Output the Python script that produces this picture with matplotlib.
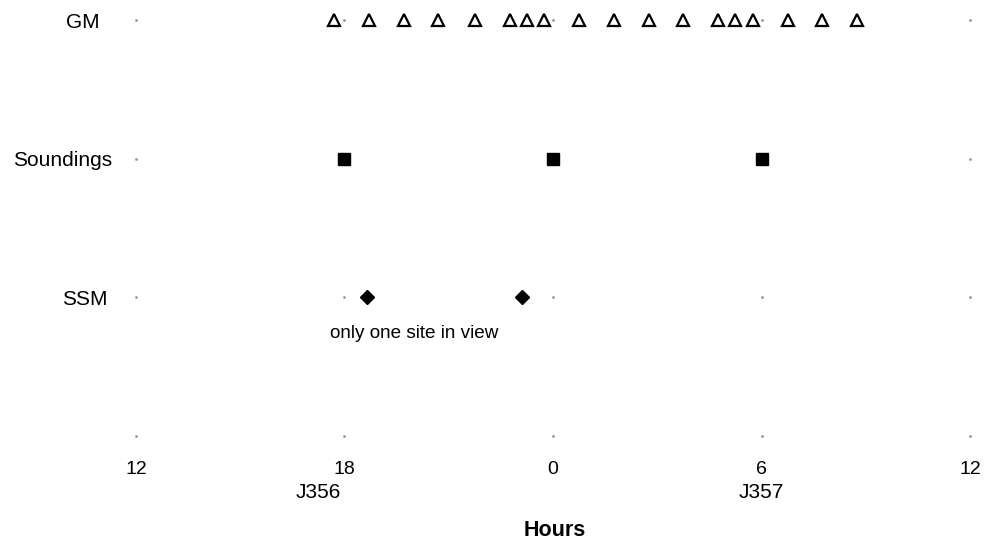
import matplotlib
matplotlib.use("Agg")
import matplotlib.pyplot as plt
import matplotlib.transforms as mtransforms

plt.rcParams["font.family"] = ["Liberation Sans", "DejaVu Sans"]

# hours counted from 12 UT on J356 (so 24 = 00 UT J357)
gm_times = [17.7, 18.7, 19.7, 20.7, 21.75, 22.75, 23.25, 23.75, 24.75, 25.75,
            26.75, 27.75, 28.75, 29.25, 29.75, 30.75, 31.75, 32.75]
sounding_times = [18.0, 24.0, 30.0]
ssm_times = [18.65, 23.1]

rows = ["SSM", "Soundings", "GM"]
row_y = [1, 2, 3]
row_right_px = [108, 112, 100]   # where each row name ends in the original

tick_pos = [12, 18, 24, 30, 36]
tick_labels = ["12", "18", "0", "6", "12"]
day_labels = ["J356", "J357"]
day_pos = [17.25, 30.0]

fig = plt.figure(figsize=(9.88, 5.42), dpi=100)
ax = fig.add_axes([136 / 988, 1 - 436 / 542, (970 - 136) / 988, (436 - 20) / 542])

# faint dotted grid marks at the main hours on every row
for yy in [0] + row_y:
    ax.plot(tick_pos, [yy] * len(tick_pos), ls="none", marker="o", ms=1.0,
            color="#999999", clip_on=False)

ax.plot(gm_times, [3] * len(gm_times), ls="none", marker="^", ms=8,
        mfc="white", mec="black", mew=1.6, clip_on=False)
ax.plot(sounding_times, [2] * len(sounding_times), ls="none", marker="s", ms=9,
        color="black", clip_on=False)
ax.plot(ssm_times, [1] * len(ssm_times), ls="none", marker="D", ms=7,
        color="black", clip_on=False)

ax.text(17.57, 0.74, "only one site in view", fontsize=13.6, ha="left", va="center")

ax.set_xlim(12, 36)
ax.set_ylim(0, 3)
ax.set_xticks(tick_pos)
ax.set_xticklabels(tick_labels, fontsize=14)
ax.set_yticks([])
ax.tick_params(axis="x", length=0, pad=18)
for s in ax.spines.values():
    s.set_visible(False)

# row names
ytrans = mtransforms.blended_transform_factory(fig.transFigure, ax.transData)
for name, yy, xr in zip(rows, row_y, row_right_px):
    ax.text(xr / 988, yy, name, transform=ytrans, fontsize=15,
            ha="right", va="center_baseline")

trans = mtransforms.blended_transform_factory(ax.transData, fig.transFigure)
for lab, xp in zip(day_labels, day_pos):
    ax.text(xp, 1 - 493 / 542, lab, transform=trans, fontsize=15,
            ha="center", va="center")

fig.text(555 / 988, 1 - 531 / 542, "Hours", fontsize=15.5, fontweight="bold",
         ha="center", va="center")

fig.savefig("out.png", dpi=100)
